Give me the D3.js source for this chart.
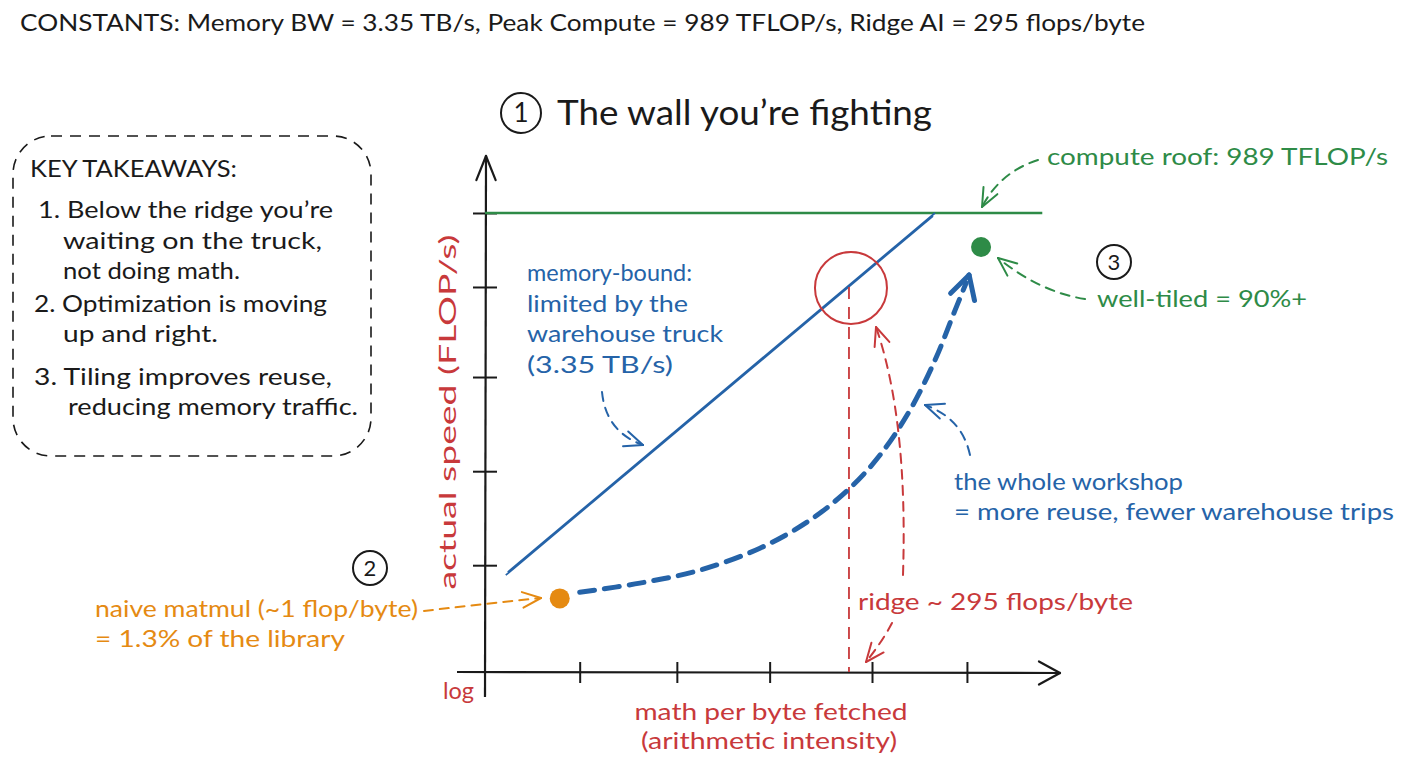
<!DOCTYPE html>
<html><head><meta charset="utf-8">
<script src="https://cdn.jsdelivr.net/npm/d3@7"></script>
<style>body{margin:0;background:#fff} svg{display:block} text{font-family:Lato,"Open Sans",sans-serif}</style>
</head><body>
<svg id="c" width="1408" height="768"></svg>
<script>
// ---------- data ----------
const roofAI = [0.23, 13200];          // compute roof extent (flops/byte)
const roofPerf = [989, 989];           // TFLOP/s
const memAI = [0.36, 1600];            // memory-bound roof line
const memPerf = [0.215, 989];
const ridgeAI = 295;
const ridgePerf = 174;
const pointNames = ["naive matmul", "well-tiled"];
const pointAI = [1, 3960];
const pointPerf = [0.116, 445];
const pathAI = [1.48, 4.83, 15.7, 51.2, 137, 301, 543, 980, 1603, 2377, 2952];
const pathPerf = [0.134, 0.166, 0.225, 0.377, 0.728, 1.55, 3.36, 9.66, 31.3, 101, 191];
const xTicks = [1.48, 10, 62, 464, 3000];
const yTicks = [0.253, 2.3, 21, 174, 989];
const takeaways = [
  ["KEY TAKEAWAYS:", 0],
  ["1. Below the ridge you\u2019re", 1],
  ["waiting on the truck,", 2],
  ["not doing math.", 2],
  ["2. Optimization is moving", 1],
  ["up and right.", 2],
  ["3. Tiling improves reuse,", 1],
  ["reducing memory traffic.", 2]
];

const BLUE = "#2563a8", GREEN = "#2e8b47", RED = "#c8393b", ORANGE = "#e58a12", INK = "#1a1a1a";

const svg = d3.select("#c");
const x = d3.scaleLog().domain([0.23, 18700]).range([485, 1060]);
const y = d3.scaleLog().domain([0.0206, 3860]).range([672, 155]);

function txt(g, px, py, s, size, color, len, anchor, extra) {
  const t = g.append("text").attr("x", px).attr("y", py).text(s)
    .attr("font-size", size).attr("fill", color)
    .attr("text-anchor", anchor || "start");
  if (len) t.attr("textLength", len).attr("lengthAdjust", "spacingAndGlyphs");
  if (extra) extra(t);
  return t;
}
function head(g, tip, from, color, w, len, ang) {
  const a = Math.atan2(tip[1] - from[1], tip[0] - from[0]);
  len = len || 18; ang = ang || 0.45;
  [a + Math.PI - ang, a + Math.PI + ang].forEach(b => {
    g.append("line").attr("x1", tip[0]).attr("y1", tip[1])
      .attr("x2", tip[0] + len * Math.cos(b)).attr("y2", tip[1] + len * Math.sin(b))
      .attr("stroke", color).attr("stroke-width", w || 2).attr("stroke-linecap", "round");
  });
}
function arrow(g, p0, c, p1, color, dash) {
  g.append("path").attr("d", `M${p0[0]},${p0[1]} Q${c[0]},${c[1]} ${p1[0]},${p1[1]}`)
    .attr("fill", "none").attr("stroke", color).attr("stroke-width", 2)
    .attr("stroke-dasharray", dash || "9,7").attr("stroke-linecap", "round");
  head(g, p1, c, color, 2, 20, 0.4);
}
function circled(g, cx, cy, r, label, size) {
  g.append("circle").attr("cx", cx).attr("cy", cy).attr("r", r)
    .attr("fill", "none").attr("stroke", INK).attr("stroke-width", 2);
  txt(g, cx, cy + size * 0.36, label, size, INK, null, "middle");
}

// ---------- header ----------
txt(svg, 20, 31, "CONSTANTS: Memory BW = 3.35 TB/s, Peak Compute = 989 TFLOP/s, Ridge AI = 295 flops/byte", 24, INK, 1125);
circled(svg, 521, 113, 20, "1", 26);
txt(svg, 557, 125, "The wall you\u2019re fighting", 34, INK, 375);

// ---------- takeaways box ----------
const box = svg.append("g");
box.append("rect").attr("x", 13).attr("y", 136).attr("width", 358).attr("height", 320)
  .attr("rx", 38).attr("fill", "none").attr("stroke", INK).attr("stroke-width", 1.6)
  .attr("stroke-dasharray", "11,8");
const tkY = [177, 218, 249, 279, 312, 342, 385, 415];
const tkX = [30, 38, 63];
const tkLen = [207, 295, 259, 177, 293, 155, 298, 290];
takeaways.forEach((d, i) => {
  const xx = i === 7 ? 68 : (i === 4 || i === 6 ? 34 : tkX[d[1]]);
  txt(box, xx, tkY[i], d[0], 23, INK, tkLen[i]);
});

// ---------- axes ----------
const ax = svg.append("g");
const xAxis = ax.append("g").attr("transform", "translate(0,672)")
  .call(d3.axisBottom(x).tickValues(xTicks).tickFormat("").tickSizeOuter(0));
xAxis.select(".domain").remove();
xAxis.selectAll(".tick line").attr("y1", -10).attr("y2", 11).attr("stroke", INK).attr("stroke-width", 2);
const yAxis = ax.append("g").attr("transform", "translate(485,0)")
  .call(d3.axisLeft(y).tickValues(yTicks).tickFormat("").tickSizeOuter(0));
yAxis.select(".domain").remove();
yAxis.selectAll(".tick line").attr("x1", -12).attr("x2", 12).attr("stroke", INK).attr("stroke-width", 2);
ax.append("line").attr("x1", 457).attr("y1", 672).attr("x2", 1060).attr("y2", 673)
  .attr("stroke", INK).attr("stroke-width", 2.2);
ax.append("line").attr("x1", 485).attr("y1", 697).attr("x2", 486).attr("y2", 156)
  .attr("stroke", INK).attr("stroke-width", 2.2);
head(ax, [1060, 673], [1000, 673], INK, 2.2, 24, 0.5);
head(ax, [486, 156], [486, 220], INK, 2.2, 26, 0.38);

txt(svg, 443, 699, "log", 23, RED, 31);
txt(svg, 771, 720, "math per byte fetched", 23, RED, 273, "middle");
txt(svg, 769, 749, "(arithmetic intensity)", 23, RED, 256, "middle");
txt(svg, 0, 0, "actual speed (FLOP/s)", 23, RED, 355, "middle",
  t => t.attr("transform", "translate(456,412) rotate(-90)"));

// ---------- roofs ----------
const line = d3.line().x(d => x(d[0])).y(d => y(d[1]));
svg.append("path").datum(d3.zip(roofAI, roofPerf)).attr("d", line)
  .attr("fill", "none").attr("stroke", GREEN).attr("stroke-width", 2.5);
const memG = svg.append("g");
[[0, 0], [-2, 3]].forEach(o => {
  memG.append("path").datum(d3.zip(memAI, memPerf)).attr("d", line)
    .attr("transform", `translate(${o[0]},${o[1]})`)
    .attr("fill", "none").attr("stroke", BLUE).attr("stroke-width", 1.8);
});

// ---------- ridge ----------
svg.append("line").attr("x1", x(ridgeAI)).attr("x2", x(ridgeAI))
  .attr("y1", y(ridgePerf)).attr("y2", 672)
  .attr("stroke", RED).attr("stroke-width", 1.8).attr("stroke-dasharray", "12,8");
svg.append("circle").attr("cx", x(ridgeAI) + 2).attr("cy", y(ridgePerf) + 1).attr("r", 36)
  .attr("fill", "none").attr("stroke", RED).attr("stroke-width", 2);

// ---------- optimization path ----------
const curve = d3.line().x(d => x(d[0])).y(d => y(d[1])).curve(d3.curveCatmullRom);
const pathPts = d3.zip(pathAI, pathPerf);
svg.append("path").datum(pathPts).attr("d", curve)
  .attr("fill", "none").attr("stroke", BLUE).attr("stroke-width", 5)
  .attr("stroke-dasharray", "15,10").attr("stroke-linecap", "round");
const last = pathPts[pathPts.length - 1];
head(svg, [x(last[0]) + 3, y(last[1]) - 8], [x(last[0]) - 3, y(last[1]) + 12], BLUE, 5, 26, 0.5);

// points
svg.selectAll(".pt").data(d3.zip(pointAI, pointPerf, pointNames)).join("circle")
  .attr("cx", d => x(d[0])).attr("cy", d => y(d[1])).attr("r", 10)
  .attr("fill", (d, i) => i === 0 ? ORANGE : GREEN);

// ---------- annotations ----------
const an = svg.append("g");
// compute roof
txt(an, 1047, 165, "compute roof: 989 TFLOP/s", 23, GREEN, 341);
arrow(an, [1038, 160], [1000, 172], [982, 207], GREEN);
// well-tiled
circled(an, 1114, 262, 17, "3", 22);
txt(an, 1097, 307, "well-tiled = 90%+", 23, GREEN, 210);
arrow(an, [1085, 299], [1040, 292], [998, 258], GREEN);
// memory-bound
["memory-bound:", "limited by the", "warehouse truck", "(3.35 TB/s)"].forEach((s, i) => {
  txt(an, 527, [281, 312, 342, 373][i], s, 23, BLUE, [165, 161, 196, 146][i]);
});
arrow(an, [602, 392], [606, 432], [643, 445], BLUE);
// whole workshop
txt(an, 954, 490, "the whole workshop", 23, BLUE, 229);
txt(an, 954, 520, "= more reuse, fewer warehouse trips", 23, BLUE, 440);
arrow(an, [970, 455], [962, 418], [925, 405], BLUE);
// naive
circled(an, 370, 568, 17, "2", 22);
txt(an, 95, 617, "naive matmul (~1 flop/byte)", 23, ORANGE, 323);
txt(an, 95, 647, "= 1.3% of the library", 23, ORANGE, 250);
arrow(an, [424, 611], [482, 604], [541, 598], ORANGE);
// ridge
txt(an, 858, 610, "ridge ~ 295 flops/byte", 23, RED, 275);
arrow(an, [903, 575], [908, 420], [876, 327], RED);
arrow(an, [892, 623], [882, 642], [866, 662], RED);
</script>
</body></html>
